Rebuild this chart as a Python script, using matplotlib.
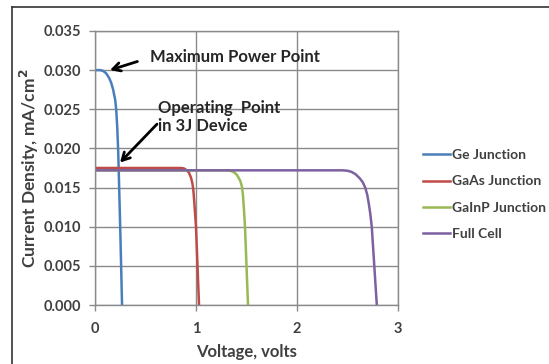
import matplotlib.pyplot as plt
from matplotlib.lines import Line2D

plt.rcParams['font.family'] = ['Lato', 'DejaVu Sans']
plt.rcParams['font.weight'] = 'bold'

# I-V curves of each junction and of the full triple-junction cell
ge_v = [0, 0.05, 0.08, 0.11, 0.14, 0.16, 0.18, 0.20, 0.21, 0.22, 0.23, 0.25, 0.268]
ge_i = [0.0300, 0.0300, 0.0299, 0.0296, 0.0290, 0.0284, 0.0275, 0.0262, 0.0250, 0.0228, 0.0196, 0.0098, 0.0]

gaas_v = [0, 0.5, 0.85, 0.88, 0.91, 0.93, 0.95, 0.965, 0.975, 0.985, 1.0, 1.015, 1.03]
gaas_i = [0.0175, 0.0175, 0.0175, 0.01745, 0.0172, 0.0169, 0.0163, 0.0155, 0.0145, 0.0128, 0.0100, 0.0050, 0.0]

gainp_v = [0, 1.0, 1.30, 1.34, 1.37, 1.40, 1.42, 1.44, 1.455, 1.465, 1.475, 1.485, 1.50, 1.515]
gainp_i = [0.0172, 0.0172, 0.0172, 0.01715, 0.0170, 0.0167, 0.0163, 0.0158, 0.0151, 0.0140, 0.0122, 0.0100, 0.0050, 0.0]

full_v = [0, 2.0, 2.45, 2.50, 2.54, 2.58, 2.62, 2.65, 2.675, 2.695, 2.71, 2.725, 2.74, 2.765, 2.79]
full_i = [0.0172, 0.0172, 0.0172, 0.01715, 0.0170, 0.0167, 0.0162, 0.0157, 0.0150, 0.0141, 0.0130, 0.0117, 0.0100, 0.0050, 0.0]

labels = ['Ge Junction', 'GaAs Junction', 'GaInP Junction', 'Full Cell']
colors = ['#4a7ebb', '#be4b48', '#98b954', '#7d60a0']

fig = plt.figure(figsize=(5.49, 3.64), dpi=100)
ax = fig.add_axes([0.173, 0.162, 0.552, 0.753])

for v, i, lab, c in zip([ge_v, gaas_v, gainp_v, full_v], [ge_i, gaas_i, gainp_i, full_i], labels, colors):
    ax.plot(v, i, color=c, lw=1.8, label=lab)

ax.set_xlim(0, 3)
ax.set_ylim(0, 0.035)
ax.set_xticks([0, 1, 2, 3])
ax.set_yticks([0, 0.005, 0.010, 0.015, 0.020, 0.025, 0.030, 0.035])
ax.set_yticklabels(['%.3f' % t for t in ax.get_yticks()])
ax.grid(True, color='#8a8a8a', lw=1.0)
ax.set_axisbelow(True)
for s in ax.spines.values():
    s.set_color('#8a8a8a')
    s.set_linewidth(1.0)
ax.tick_params(colors='#8a8a8a', labelcolor='#404040', labelsize=10.5, length=4, width=1.0)
ax.tick_params(axis='x', pad=8)
ax.tick_params(axis='y', pad=6)
for lbl in ax.get_xticklabels() + ax.get_yticklabels():
    lbl.set_fontweight('bold')

ax.set_xlabel('Voltage, volts', fontsize=12, fontweight='bold', color='#404040', labelpad=6)
ax.set_ylabel('Current Density, mA/cm$^2$', fontsize=12.5, fontweight='bold', color='#404040', labelpad=2)

# annotations
arrow = dict(arrowstyle='->, head_length=0.55, head_width=0.3', color='black', lw=2.0,
             shrinkA=0, shrinkB=0)
ax.text(0.545, 0.0317, 'Maximum Power Point', fontsize=12, fontweight='bold', color='#262626', va='center')
ax.annotate('', xy=(0.149, 0.0300), xytext=(0.42, 0.0311), arrowprops=arrow)
ax.text(0.62, 0.0240, 'Operating  Point\nin 3J Device', fontsize=12, fontweight='bold', color='#262626',
        va='center', linespacing=1.2)
ax.annotate('', xy=(0.248, 0.0182), xytext=(0.614, 0.0231), arrowprops=arrow)

ax.legend(loc='upper left', bbox_to_anchor=(1.04, 0.615), frameon=False,
          handlelength=2.0, handletextpad=0.08, labelspacing=1.04,
          prop={'size': 10, 'weight': 'bold'}, labelcolor='#404040')

# outer frame
fig.add_artist(Line2D([12 / 549, 12 / 549], [0, 1 - 7 / 364], color='#333333', lw=1.2))
fig.add_artist(Line2D([12 / 549, 1], [1 - 7 / 364, 1 - 7 / 364], color='#333333', lw=1.2))

fig.savefig('out.png', dpi=100, facecolor='white')
